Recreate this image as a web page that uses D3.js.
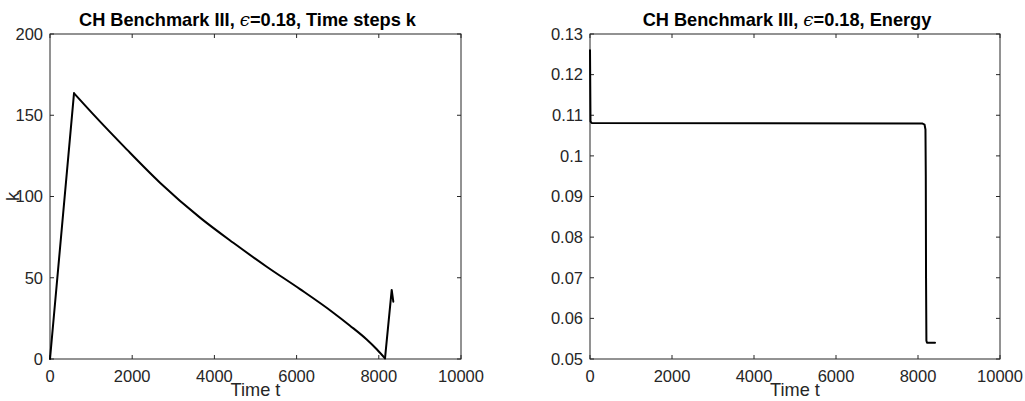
<!DOCTYPE html>
<html>
<head>
<meta charset="utf-8">
<script src="https://cdn.jsdelivr.net/npm/d3@7"></script>
<style>
  body { margin: 0; background: #fff; }
  svg { display: block; font-family: "Liberation Sans", Arial, Helvetica, sans-serif; }
</style>
</head>
<body>
<svg id="chart" width="1025" height="401"></svg>
<script>
// time step size k over time t (rise, decay, restart)
const riseT = [0, 584];
const riseK = [0, 163.5];
const decayT = [584, 1054, 1866, 2676, 3650, 4460, 5273, 6083, 6893, 7300, 7706, 7950, 8151];
const decayK = [163.5, 150.5, 129.0, 108.5, 87.0, 71.5, 56.8, 43.0, 28.5, 20.5, 12.0, 6.0, 0.4];
const restartT = [8151, 8314, 8353];
const restartK = [0.4, 42.5, 35.3];

// discrete energy over time t
const energyT = [0, 12, 40, 8100, 8160, 8182, 8190, 8196, 8205, 8220, 8415];
const energyE = [0.126, 0.1085, 0.1081, 0.1080, 0.1077, 0.1065, 0.095, 0.070, 0.0545, 0.0540, 0.0540];

const xTicks = [0, 2000, 4000, 6000, 8000, 10000];
const kTicks = [0, 50, 100, 150, 200];
const eTicks = [0.05, 0.06, 0.07, 0.08, 0.09, 0.1, 0.11, 0.12, 0.13];

const plotTop = 34, plotBottom = 359;
const axisColor = '#262626';

const svg = d3.select('#chart');

function drawPanel(opts) {
  const x = d3.scaleLinear().domain([0, 10000]).range([opts.left, opts.right]);
  const y = d3.scaleLinear().domain(opts.yDomain).range([plotBottom, plotTop]);
  const g = svg.append('g');
  const tick = 4;

  // box
  g.append('rect')
      .attr('x', opts.left)
      .attr('y', plotTop)
      .attr('width', opts.right - opts.left)
      .attr('height', plotBottom - plotTop)
      .style('fill', 'none')
      .style('stroke', axisColor)
      .style('stroke-width', 1);

  // x ticks (bottom + top, inward)
  xTicks.forEach(v => {
    g.append('line')
        .attr('x1', x(v)).attr('x2', x(v))
        .attr('y1', plotBottom).attr('y2', plotBottom - tick)
        .style('stroke', axisColor);
    g.append('line')
        .attr('x1', x(v)).attr('x2', x(v))
        .attr('y1', plotTop).attr('y2', plotTop + tick)
        .style('stroke', axisColor);
    g.append('text')
        .attr('x', x(v))
        .attr('y', plotBottom + 23)
        .attr('text-anchor', 'middle')
        .attr('font-size', 16.5)
        .style('fill', axisColor)
        .text(v);
  });

  // y ticks (left + right, inward)
  opts.yTicks.forEach(v => {
    g.append('line')
        .attr('x1', opts.left).attr('x2', opts.left + tick)
        .attr('y1', y(v)).attr('y2', y(v))
        .style('stroke', axisColor);
    g.append('line')
        .attr('x1', opts.right).attr('x2', opts.right - tick)
        .attr('y1', y(v)).attr('y2', y(v))
        .style('stroke', axisColor);
    g.append('text')
        .attr('x', opts.left - 7)
        .attr('y', y(v))
        .attr('dy', '0.35em')
        .attr('text-anchor', 'end')
        .attr('font-size', 16.5)
        .style('fill', axisColor)
        .text(opts.fmt(v));
  });

  // x label
  g.append('text')
      .attr('x', (opts.left + opts.right) / 2)
      .attr('y', 396)
      .attr('text-anchor', 'middle')
      .attr('font-size', 18.2)
      .style('fill', axisColor)
      .text('Time t');

  // title
  const title = g.append('text')
      .attr('x', (opts.left + opts.right) / 2 - 8)
      .attr('y', 26)
      .attr('text-anchor', 'middle')
      .attr('font-size', 18.2)
      .attr('font-weight', 'bold')
      .style('fill', '#000');
  title.append('tspan').text('CH Benchmark III, ');
  title.append('tspan').attr('font-weight', 'normal').attr('font-family', 'DejaVu Serif').attr('font-style', 'italic').text('\u03F5');
  title.append('tspan').text('=0.18, ' + opts.title);

  if (opts.yLabel) {
    g.append('text')
        .attr('transform', `translate(${opts.left - 31}, ${(plotTop + plotBottom) / 2}) rotate(-90)`)
        .attr('text-anchor', 'middle')
        .attr('font-size', 18.2)
        .style('fill', axisColor)
        .text(opts.yLabel);
  }

  // series, each piece with its own curve
  opts.series.forEach(s => {
    const line = d3.line()
        .x((d, i) => x(s.t[i]))
        .y(d => y(d))
        .curve(s.curve || d3.curveLinear);
    g.append('path')
        .datum(s.v)
        .attr('d', line)
        .style('fill', 'none')
        .style('stroke', '#000')
        .style('stroke-width', 2)
        .style('stroke-linejoin', 'round')
        .style('stroke-linecap', 'round');
  });
}

drawPanel({
  left: 50, right: 461,
  yDomain: [0, 200], yTicks: kTicks, fmt: d => d,
  series: [
    {t: riseT, v: riseK},
    {t: decayT, v: decayK, curve: d3.curveMonotoneX},
    {t: restartT, v: restartK}
  ],
  title: 'Time steps k', yLabel: 'k'
});

drawPanel({
  left: 590, right: 1000,
  yDomain: [0.05, 0.13], yTicks: eTicks, fmt: d => String(+d.toFixed(2)),
  series: [{t: energyT, v: energyE}],
  title: 'Energy', yLabel: null
});
</script>
</body>
</html>
